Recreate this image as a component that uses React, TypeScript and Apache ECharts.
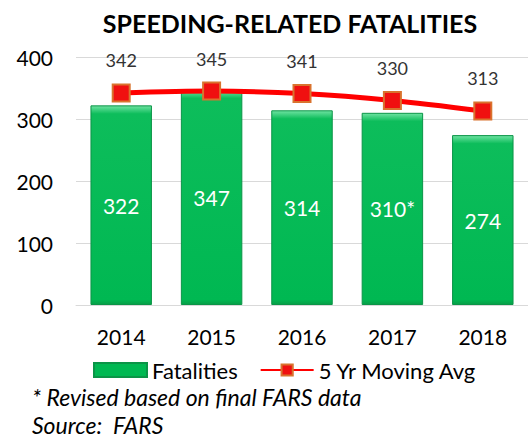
import React, { useEffect, useRef } from "react";
import * as echarts from "echarts";

const years = ["2014", "2015", "2016", "2017", "2018"];
const fatalities = [322, 347, 314, 310, 274];
const fatalityLabels = ["322", "347", "314", "310*", "274"];
const movingAvg = [342, 345, 341, 330, 313];
const footnotes = ["* Revised based on final FARS data", "Source:  FARS"];

const FONT = "Lato, 'Open Sans', sans-serif";
const PX_PER_UNIT = 248 / 400;

function barColor(v: number) {
  const h = v * PX_PER_UNIT;
  return new echarts.graphic.LinearGradient(0, 0, 0, 1, [
    { offset: 0, color: "#6FE3A2" },
    { offset: 8 / h, color: "#0DBD5B" },
    { offset: 1 - 5 / h, color: "#00B852" },
    { offset: 1, color: "#079E47" },
  ]);
}

export default function App() {
  const ref = useRef<HTMLDivElement>(null);
  useEffect(() => {
    const chart = echarts.init(ref.current!, null, { renderer: "svg" });
    chart.setOption({
      animation: false,
      textStyle: { fontFamily: FONT },
      title: {
        text: "SPEEDING-RELATED FATALITIES",
        left: 285,
        textAlign: "center",
        top: 5,
        textStyle: { fontSize: 25, fontWeight: "bold", color: "#000", fontFamily: FONT },
      },
      legend: {
        top: 354,
        left: 88,
        itemGap: 22,
        itemWidth: 53,
        itemHeight: 14,
        textStyle: { fontSize: 22, color: "#000", fontFamily: FONT },
        data: [
          { name: "Fatalities", icon: "rect" },
          { name: "5 Yr Moving Avg" },
        ],
      },
      grid: { left: 76, right: -3, top: 57, bottom: 134, containLabel: false },
      xAxis: {
        type: "category",
        data: years,
        axisLine: { show: true, lineStyle: { color: "#D9D9D9", width: 1 } },
        axisTick: { show: false },
        axisLabel: { fontSize: 21, color: "#000", margin: 21, fontFamily: FONT },
      },
      yAxis: {
        type: "value",
        min: 0,
        max: 400,
        interval: 100,
        axisLine: { show: false },
        axisTick: { show: false },
        splitLine: { lineStyle: { color: "#D9D9D9", width: 1 } },
        axisLabel: { fontSize: 21, color: "#000", margin: 23, fontFamily: FONT },
      },
      series: [
        {
          name: "Fatalities",
          type: "bar",
          data: fatalities.map((v) => ({ value: v, itemStyle: { color: barColor(v) } })),
          barWidth: "68%",
          itemStyle: {
            color: "#00B852",
            borderColor: "#0B9447",
            borderWidth: 1,
          },
          label: {
            show: true,
            position: "inside",
            color: "#fff",
            fontSize: 21,
            fontFamily: FONT,
            formatter: (p: any) => fatalityLabels[p.dataIndex],
          },
          z: 2,
        },
        {
          name: "5 Yr Moving Avg",
          type: "line",
          data: movingAvg,
          smooth: 0.3,
          symbol: "rect",
          symbolSize: 17,
          lineStyle: { color: "#FF0000", width: 5 },
          itemStyle: { color: "#F01010", borderColor: "#D9732E", borderWidth: 2 },
          label: {
            show: true,
            position: "top",
            distance: 14,
            color: "#333",
            fontSize: 18,
            fontFamily: FONT,
          },
          z: 3,
        },
      ],
      graphic: [
        {
          type: "text",
          left: 32,
          top: 385,
          style: { text: footnotes[0], fontSize: 23, fontStyle: "italic", fill: "#000", fontFamily: FONT },
        },
        {
          type: "text",
          left: 32,
          top: 413,
          style: { text: footnotes[1], fontSize: 23, fontStyle: "italic", fill: "#000", fontFamily: FONT },
        },
      ],
    });
    return () => chart.dispose();
  }, []);
  return <div ref={ref} style={{ width: 528, height: 439, position: "absolute", left: 0, top: 0, background: "#fff" }} />;
}
